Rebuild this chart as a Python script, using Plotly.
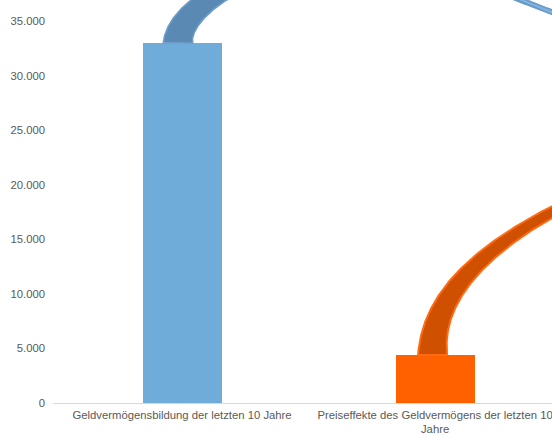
import numpy as np
import plotly.graph_objects as go

# ---------------- data ----------------
categories = [
    "Geldvermögensbildung der letzten 10 Jahre",
    "Preiseffekte des Geldvermögens der letzten 10<br>Jahre",
]
values = [33000, 4400]
y_tick_values = [0, 5000, 10000, 15000, 20000, 25000, 30000, 35000]

# ---------------- style / geometry ----------------
bar_colors = ["#6FACDA", "#FF6100"]
ribbon_fill = ["#5A8AB4", "#CF5000"]
ribbon_line = ["#6D9DC8", "#FF6A12"]
ribbon_highlight = "#80B4E2"

W, H = 552, 435
ML, MR, MT, MB = 53, 0, 0, 32
x_range = [-0.51, 1.462]
y_range = [0, 36924]
sx = (W - ML - MR) / (x_range[1] - x_range[0])
sy = (H - MT - MB) / (y_range[1] - y_range[0])
FONT_SIZE = 11.3


def to_px(x, y):
    return ML + (x - x_range[0]) * sx, MT + (y_range[1] - y) * sy


def to_data(px, py):
    return x_range[0] + (px - ML) / sx, y_range[1] - (py - MT) / sy


def bezier(p, t):
    p = np.asarray(p, float)
    t = t[:, None]
    return ((1 - t) ** 3) * p[0] + 3 * ((1 - t) ** 2) * t * p[1] + 3 * (1 - t) * t ** 2 * p[2] + t ** 3 * p[3]


def ribbon(anchor_idx, segments, width_fn, s_min=0.0):
    ax, ay = to_px(anchor_idx, values[anchor_idx])
    pts = []
    svals = []
    for k, seg in enumerate(segments):
        t = np.linspace(0, 1, 200)
        p = [(ax + dx, ay + dy) for dx, dy in seg]
        b = bezier(p, t)
        pts.append(b if k == 0 else b[1:])
        svals.append((k + t) if k == 0 else (k + t)[1:])
    pts = np.vstack(pts)
    s = np.concatenate(svals)
    d = np.gradient(pts, axis=0)
    d /= np.linalg.norm(d, axis=1)[:, None]
    n = np.stack([-d[:, 1], d[:, 0]], axis=1)
    w = width_fn(s)
    keep = s >= s_min
    pts, n, w = pts[keep], n[keep], w[keep]
    left = pts + n * (w[:, None] / 2)
    right = pts - n * (w[:, None] / 2)
    poly = np.vstack([left, right[::-1], left[:1]])
    xs, ys = to_data(poly[:, 0], poly[:, 1])
    return xs, ys


def blue_width(s):
    # ~29 px on the rising leg, tapering smoothly to ~5 px on the descending leg
    return 4.5 + 25 * np.clip(1 - (s / 1.6), 0, 1) ** 1.3


def blue_highlight_width(s):
    return np.clip((s - 1.35) / 0.2, 0, 1) * 2.2


def orange_width(s):
    return 8.5 + 20.5 * (1 - s) ** 1.4


# blue ribbon (from first bar, arching to the right)
blue_segments = [
    [(-4, 0), (-4, -25), (40, -75), (178, -88)],
    [(178, -88), (258, -88), (318, -43), (506, 19)],
]
bx, by = ribbon(0, blue_segments, blue_width)
hx, hy = ribbon(0, blue_segments, blue_highlight_width, s_min=1.35)

# orange ribbon (from second bar, curving up to the right)
orange_segments = [
    [(-2.5, 0), (-3, -55), (40, -115), (185, -175)],
]
ox, oy = ribbon(1, orange_segments, orange_width)

fig = go.Figure()
fig.add_trace(go.Bar(x=list(range(len(values))), y=values, width=0.312,
                     marker=dict(color=bar_colors, line=dict(width=0)),
                     hoverinfo="skip", showlegend=False))
fig.add_trace(go.Scatter(x=bx, y=by, mode="lines", fill="toself", fillcolor=ribbon_fill[0],
                         line=dict(color=ribbon_line[0], width=1.5), hoverinfo="skip", showlegend=False))
fig.add_trace(go.Scatter(x=hx, y=hy, mode="lines", fill="toself", fillcolor=ribbon_highlight,
                         line=dict(width=0), hoverinfo="skip", showlegend=False))
fig.add_trace(go.Scatter(x=ox, y=oy, mode="lines", fill="toself", fillcolor=ribbon_fill[1],
                         line=dict(color=ribbon_line[1], width=2), hoverinfo="skip", showlegend=False))

fig.update_layout(
    width=W, height=H,
    margin=dict(l=ML, r=MR, t=MT, b=MB, pad=0),
    paper_bgcolor="white", plot_bgcolor="white",
    separators=",.",
    font=dict(family="Liberation Sans, Arial, sans-serif", size=FONT_SIZE, color="#595959"),
    xaxis=dict(range=x_range, tickvals=list(range(len(categories))), ticktext=categories,
               showgrid=False, zeroline=False, showline=True, linecolor="#D9D9D9", linewidth=1,
               ticks="", ticklabelstandoff=1, ticklabeloverflow="allow", automargin=False,
               tickfont=dict(size=FONT_SIZE, color="#595959")),
    yaxis=dict(range=y_range, tickvals=y_tick_values, tickformat=",d",
               showgrid=False, zeroline=False, showline=False, ticks="",
               ticklabelstandoff=7, automargin=False,
               tickfont=dict(size=FONT_SIZE, color="#595959")),
    bargap=0,
)

fig.write_html("out.html")
